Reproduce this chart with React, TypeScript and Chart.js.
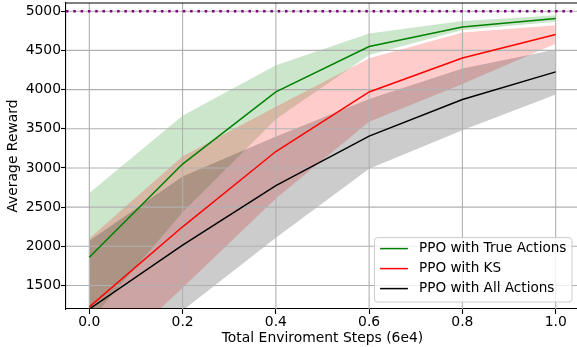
import React, { useEffect, useRef } from "react";
import { Chart, registerables } from "chart.js";

Chart.register(...registerables);

// ---- data ----
const STEPS = [0, 0.2, 0.4, 0.6, 0.8, 1.0];

const TRUE_MEAN = [1860, 3050, 3970, 4550, 4800, 4907];
const TRUE_UPPER = [2680, 3665, 4310, 4716, 4876, 4949];
const TRUE_LOWER = [1040, 2435, 3620, 4440, 4760, 4865];

const KS_MEAN = [1228, 2249, 3210, 3970, 4404, 4703];
const KS_UPPER = [2100, 3150, 3780, 4400, 4730, 4821];
const KS_LOWER = [356, 1470, 2610, 3590, 4072, 4585];

const ALL_MEAN = [1200, 2015, 2775, 3406, 3874, 4226];
const ALL_UPPER = [2070, 2890, 3400, 3880, 4269, 4511];
const ALL_LOWER = [330, 1180, 2110, 2990, 3482, 3937];

const TARGET = 5000;

const SERIES_LABELS = ["PPO with True Actions", "PPO with KS", "PPO with All Actions"];

const X_TICKS = [0, 0.2, 0.4, 0.6, 0.8, 1.0];
const Y_TICKS = [1500, 2000, 2500, 3000, 3500, 4000, 4500, 5000];
const X_MIN = -0.05;
const X_MAX = 1.05;
const Y_MIN = 1200;
const Y_MAX = 5105;

const FONT = "DejaVu Sans";
const FS = 13.9;
const LEGEND_FS = 13.6;

const pts = (ys: number[]) => ys.map((y, i) => ({ x: STEPS[i], y }));

export default function App() {
  const ref = useRef<HTMLCanvasElement | null>(null);

  useEffect(() => {
    if (!ref.current) return;
    Chart.defaults.font.family = FONT;
    Chart.defaults.font.size = FS;
    Chart.defaults.color = "#000";

    const lineDs = (label: string, ys: number[], color: string) => ({
      label,
      data: pts(ys),
      borderColor: color,
      backgroundColor: color,
      borderWidth: 1.5,
      pointRadius: 0,
      fill: false,
      tension: 0,
    });
    const bandDs = (ys: number[], color: string | null) => ({
      label: "",
      data: pts(ys),
      borderColor: "rgba(0,0,0,0)",
      borderWidth: 0,
      pointRadius: 0,
      backgroundColor: color || "rgba(0,0,0,0)",
      fill: color ? "+1" : false,
      tension: 0,
    });

    const gridPlugin = {
      id: "gridOverFills",
      beforeDatasetsDraw(chart: any) {
        const { ctx, chartArea: a, scales } = chart;
        ctx.save();
        ctx.strokeStyle = "#b0b0b0";
        ctx.lineWidth = 1.1;
        for (const v of Y_TICKS) {
          const y = scales.y.getPixelForValue(v);
          ctx.beginPath();
          ctx.moveTo(a.left, y);
          ctx.lineTo(a.right, y);
          ctx.stroke();
        }
        for (const v of X_TICKS) {
          const x = scales.x.getPixelForValue(v);
          ctx.beginPath();
          ctx.moveTo(x, a.top);
          ctx.lineTo(x, a.bottom);
          ctx.stroke();
        }
        ctx.restore();
      },
      afterDraw(chart: any) {
        const { ctx, chartArea: a } = chart;
        ctx.save();
        // top and right spines
        ctx.strokeStyle = "#000";
        ctx.lineWidth = 1.1;
        ctx.beginPath();
        ctx.moveTo(a.left, a.top);
        ctx.lineTo(a.right, a.top);
        ctx.lineTo(a.right, a.bottom);
        ctx.stroke();

        // legend
        const colors = ["#008000", "#ff0000", "#000000"];
        ctx.font = `${LEGEND_FS}px "${FONT}"`;
        const pad = 0.4 * FS;
        const handle = 2 * FS;
        const hpad = 0.8 * FS;
        const tw = Math.max(...SERIES_LABELS.map((t) => ctx.measureText(t).width));
        const w = 2 * pad + handle + hpad + tw;
        const h = 64.4;
        const right = a.right - 7;
        const bottom = a.bottom - 7;
        const left = right - w;
        const top = bottom - h;
        ctx.beginPath();
        ctx.roundRect(left, top, w, h, 3);
        ctx.fillStyle = "rgba(255,255,255,0.8)";
        ctx.fill();
        ctx.strokeStyle = "#cccccc";
        ctx.lineWidth = 1;
        ctx.stroke();
        SERIES_LABELS.forEach((t, i) => {
          const cy = top + 11 + 20 * i;
          ctx.strokeStyle = colors[i];
          ctx.lineWidth = 1.5;
          ctx.beginPath();
          ctx.moveTo(left + pad, cy);
          ctx.lineTo(left + pad + handle, cy);
          ctx.stroke();
          ctx.fillStyle = "#000";
          ctx.textBaseline = "middle";
          ctx.textAlign = "left";
          ctx.fillText(t, left + pad + handle + hpad, cy);
        });
        ctx.restore();
      },
    };

    const chart = new Chart(ref.current, {
      type: "line",
      data: {
        datasets: [
          {
            label: "target",
            data: [
              { x: X_MIN, y: TARGET },
              { x: X_MAX, y: TARGET },
            ],
            borderColor: "#800080",
            borderWidth: 2.5,
            borderDash: [2.5, 4.8],
            pointRadius: 0,
            fill: false,
          },
          lineDs(SERIES_LABELS[2], ALL_MEAN, "#000000"),
          lineDs(SERIES_LABELS[1], KS_MEAN, "#ff0000"),
          lineDs(SERIES_LABELS[0], TRUE_MEAN, "#008000"),
          bandDs(ALL_UPPER, "rgba(0,0,0,0.2)"),
          bandDs(ALL_LOWER, null),
          bandDs(KS_UPPER, "rgba(255,0,0,0.2)"),
          bandDs(KS_LOWER, null),
          bandDs(TRUE_UPPER, "rgba(0,128,0,0.2)"),
          bandDs(TRUE_LOWER, null),
        ] as any,
      },
      options: {
        animation: false,
        responsive: false,
        maintainAspectRatio: false,
        layout: { padding: { top: 3, right: 1, left: 0, bottom: 0 } },
        plugins: {
          legend: { display: false },
          tooltip: { enabled: false },
          filler: { drawTime: "beforeDatasetsDraw" },
        } as any,
        scales: {
          x: {
            type: "linear",
            min: X_MIN,
            max: X_MAX,
            afterBuildTicks: (s: any) => {
              s.ticks = X_TICKS.map((v) => ({ value: v }));
            },
            afterFit: (s: any) => {
              s.height = 38;
              s.paddingLeft = 0;
              s.paddingRight = 0;
            },
            ticks: {
              padding: 0,
              maxRotation: 0,
              autoSkip: false,
              color: "#000",
              font: { family: FONT, size: FS },
              callback: (v: any) => Number(v).toFixed(1),
            },
            grid: {
              drawOnChartArea: false,
              drawTicks: true,
              tickLength: 5,
              tickColor: "#000",
              tickWidth: 1.1,
            },
            border: { display: true, color: "#000", width: 1.1 },
            title: {
              display: true,
              text: "Total Enviroment Steps (6e4)",
              color: "#000",
              font: { family: FONT, size: FS },
              padding: { top: 0, bottom: 0 },
            },
          },
          y: {
            type: "linear",
            min: Y_MIN,
            max: Y_MAX,
            afterBuildTicks: (s: any) => {
              s.ticks = Y_TICKS.map((v) => ({ value: v }));
            },
            afterFit: (s: any) => {
              s.width = 66;
              s.paddingTop = 0;
              s.paddingBottom = 0;
            },
            ticks: {
              padding: 0,
              autoSkip: false,
              color: "#000",
              font: { family: FONT, size: FS },
              callback: (v: any) => String(v),
            },
            grid: {
              drawOnChartArea: false,
              drawTicks: true,
              tickLength: 5,
              tickColor: "#000",
              tickWidth: 1.1,
            },
            border: { display: true, color: "#000", width: 1.1 },
            title: {
              display: true,
              text: "Average Reward",
              color: "#000",
              font: { family: FONT, size: FS },
              padding: { top: 5, bottom: 0 },
            },
          },
        },
      },
      plugins: [gridPlugin],
    } as any);

    return () => chart.destroy();
  }, []);

  return (
    <div
      style={{
        position: "absolute",
        left: 0,
        top: 0,
        width: 577,
        height: 347,
        overflow: "hidden",
        background: "#fff",
      }}
    >
      <canvas ref={ref} width={580} height={347} style={{ display: "block" }} />
    </div>
  );
}
